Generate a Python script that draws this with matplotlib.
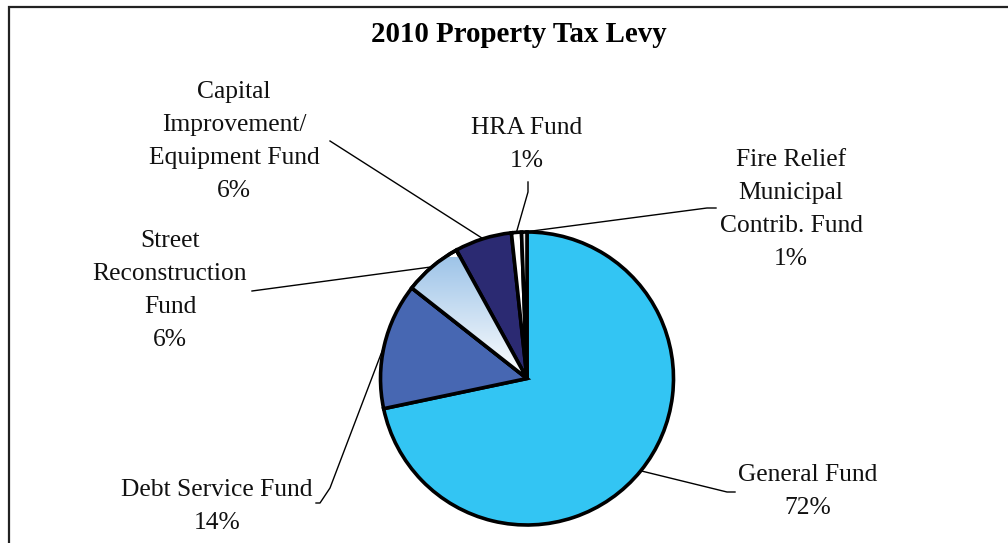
import numpy as np
import matplotlib
matplotlib.use("Agg")
import matplotlib.pyplot as plt
from matplotlib.patches import Rectangle, Wedge
from matplotlib.colors import LinearSegmentedColormap

# ---- data ----
categories = ["General Fund", "Debt Service Fund", "Street\nReconstruction\nFund",
              "Capital\nImprovement/\nEquipment Fund", "HRA Fund",
              "Fire Relief\nMunicipal\nContrib. Fund"]
values = [71.7, 13.9, 6.4, 6.3, 1.1, 0.6]
colors = ["#33C5F3", "#4767B2", "#FFFFFF", "#2B2A72", "#FFFFFF", "#E8E8E8"]
title = "2010 Property Tax Levy"

W, H = 1008, 543
fig = plt.figure(figsize=(W / 100, H / 100), dpi=100)
ax = fig.add_axes([0, 0, 1, 1])

def Y(py):
    return H - py

cx, cy, R = 527, Y(378.5), 146.5
EW = 2.6
wedges, _ = ax.pie(values, colors=colors, startangle=90, counterclock=False,
                   center=(cx, cy), radius=R, frame=True,
                   wedgeprops=dict(edgecolor="black", linewidth=EW))
ax.set_xlim(0, W)
ax.set_ylim(0, H)
ax.set_aspect("equal")
ax.axis("off")

# gradient fill for Street Reconstruction wedge
sw = wedges[2]
grad = np.linspace(0, 1, 256).reshape(-1, 1)
cmap = LinearSegmentedColormap.from_list("g", ["#FFFFFF", "#9EC4E8"])
im = ax.imshow(grad, cmap=cmap, extent=[cx - R, cx, cy, cy + R * 0.82],
               origin="lower", aspect="auto", zorder=sw.get_zorder() + 0.1)
im.set_clip_path(sw)
ax.add_patch(Wedge((cx, cy), R, sw.theta1, sw.theta2,
                   facecolor="none", edgecolor="black", linewidth=EW,
                   zorder=sw.get_zorder() + 0.2))
ax.set_xlim(0, W)
ax.set_ylim(0, H)

# frame
ax.add_patch(Rectangle((8.5, Y(560)), 1100, 560 - 6.5, fill=False,
                       edgecolor="#222222", linewidth=1.6, zorder=0))

ax.text(519, Y(35), title, ha="center", va="center", fontsize=20.8,
        fontweight="bold", family="Liberation Serif")

pct = [f"{round(v):.0f}%" for v in values]

# label centers (pixel coordinates of first-line center) and leader line paths
label_pos = [(808, 475), (217, 490), (170, 241), (234, 92), (527, 128), (791, 160)]
leaders = [
    [(735, 492), (727, 492)],
    [(316, 503), (320, 503), (330, 488)],
    [(252, 291)],
    [(330, 141)],
    [(528, 182), (528, 192)],
    [(716, 208), (707, 208)],
]

lh = 33.0
for i, (w, lab) in enumerate(zip(wedges, categories)):
    text = lab + "\n" + pct[i]
    lx, ly = label_pos[i]
    nlines = text.count("\n") + 1
    ymid = ly + lh * (nlines - 1) / 2
    ax.text(lx, Y(ymid), text, ha="center", va="center", fontsize=18.4,
            family="Liberation Serif", linespacing=1.64, color="#111111")
    ang = np.deg2rad((w.theta1 + w.theta2) / 2)
    ex, ey = cx + R * np.cos(ang), cy + R * np.sin(ang)
    pts = [(p[0], Y(p[1])) for p in leaders[i]] + [(ex, ey)]
    xs, ys = zip(*pts)
    ax.plot(xs, ys, color="black", linewidth=1.0, zorder=1)

fig.savefig("out.png", dpi=100)
